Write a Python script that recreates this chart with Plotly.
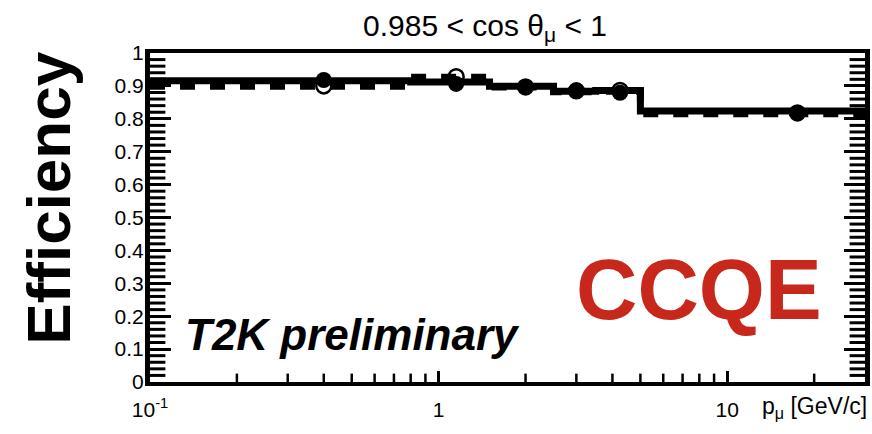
import plotly.graph_objects as go
import numpy as np

# ---- data ----
bin_edges = [0.0, 0.8, 1.5, 2.5, 3.5, 5.0, 30.0]
solid_eff = [0.916, 0.912, 0.899, 0.884, 0.886, 0.824]
dashed_eff = [0.899, 0.926, 0.897, 0.882, 0.884, 0.815]
marker_p = [0.4, 1.15, 2.0, 3.0, 4.25, 17.5]
filled_eff = [0.918, 0.906, 0.897, 0.885, 0.879, 0.818]
open_eff = [0.900, 0.928, 0.897, 0.885, 0.886, 0.818]
x_tickvals = [0.1, 1, 10]
x_ticktext = ["10<sup>-1</sup>", "1", "10"]
x_minorvals = [0.2, 0.3, 0.4, 0.5, 0.6, 0.7, 0.8, 0.9, 2, 3, 4, 5, 6, 7, 8, 9, 20]
y_minorvals = [round(v, 2) for v in np.arange(0.02, 1.0, 0.02) if round(v * 50) % 5 != 0]

XMIN, XMAX = 0.1, 30.0
FONT = "Liberation Sans"

W, H = 872, 434
ML, MR, MT, MB = 150, 2, 53, 52
PW, PH = W - ML - MR, H - MT - MB


def px(x):
    return (x - ML) / PW


def py(y):
    return (H - MB - y) / PH


def step(edges, vals):
    xs = [max(e, XMIN) for e in edges]
    ys = list(vals) + [vals[-1]]
    return xs, ys


fig = go.Figure()
xs, ys = step(bin_edges, dashed_eff)
fig.add_trace(go.Scatter(x=xs, y=ys, mode="lines", line=dict(shape="hv", color="black", width=7, dash="15px,15px"),
                         showlegend=False, hoverinfo="skip"))
xs, ys = step(bin_edges, solid_eff)
fig.add_trace(go.Scatter(x=xs, y=ys, mode="lines", line=dict(shape="hv", color="black", width=7),
                         showlegend=False, hoverinfo="skip"))
fig.add_trace(go.Scatter(x=marker_p, y=filled_eff, mode="markers",
                         marker=dict(symbol="circle", size=16, color="black"), showlegend=False))
fig.add_trace(go.Scatter(x=marker_p, y=open_eff, mode="markers",
                         marker=dict(symbol="circle-open", size=15, color="black", line=dict(width=2.5)),
                         showlegend=False))

# minor ticks (clipped at the plot frame so only the inner half shows)
for xv in (XMIN, XMAX):
    fig.add_trace(go.Scatter(x=[xv] * len(y_minorvals), y=y_minorvals, mode="markers", cliponaxis=True,
                             marker=dict(symbol="line-ew", size=22, line=dict(width=3, color="black")),
                             showlegend=False, hoverinfo="skip"))
fig.add_trace(go.Scatter(x=x_minorvals, y=[0] * len(x_minorvals), mode="markers", cliponaxis=True,
                         marker=dict(symbol="line-ns", size=12, line=dict(width=2.5, color="black")),
                         showlegend=False, hoverinfo="skip"))

axis_common = dict(showgrid=False, zeroline=False)
fig.update_layout(
    xaxis=dict(type="log", range=[np.log10(XMIN), np.log10(XMAX)],
               showline=True, linecolor="black", linewidth=4, mirror=True,
               ticks="inside", ticklen=11, tickwidth=2.5, tickcolor="black",
               tickmode="array", tickvals=x_tickvals, ticktext=x_ticktext,
               tickfont=dict(family=FONT, size=21, color="black"),
               ticklabelstandoff=6, **axis_common),
    yaxis=dict(range=[0, 1], dtick=0.1, tick0=0,
               showline=True, linecolor="black", linewidth=5, mirror="ticks",
               ticks="inside", ticklen=21, tickwidth=3, tickcolor="black",
               tickfont=dict(family=FONT, size=21, color="black"),
               ticklabelstandoff=-3, **axis_common),
)

ann = [
    dict(text="0.985 < cos θ<sub>μ</sub> < 1", x=px(487), y=py(28), size=30, color="black"),
    dict(text="<b><i>T2K preliminary</i></b>", x=px(354), y=py(334), size=44, color="black"),
    dict(text="<b>CCQE</b>", x=px(703), y=py(289), size=85, color="#c8281c"),
]
for a in ann:
    fig.add_annotation(text=a["text"], x=a["x"], y=a["y"], xref="paper", yref="paper",
                       xanchor="center", yanchor="middle", showarrow=False,
                       font=dict(family=FONT, size=a["size"], color=a["color"]))
fig.add_annotation(text="<b>Efficiency</b>", x=px(47), y=py(198), xref="paper", yref="paper",
                   textangle=-90, xanchor="center", yanchor="middle", showarrow=False,
                   font=dict(family=FONT, size=62, color="black"))
fig.add_annotation(text="p<sub>μ</sub> [GeV/c]", x=px(874), y=py(407), xref="paper", yref="paper",
                   xanchor="right", yanchor="middle", showarrow=False,
                   font=dict(family=FONT, size=23, color="black"))

fig.update_layout(width=W, height=H, margin=dict(l=ML, r=MR, t=MT, b=MB),
                  plot_bgcolor="white", paper_bgcolor="white", showlegend=False)
fig.write_html("out.html", post_script="document.body.style.margin='0px';",
               config={"displayModeBar": False})
